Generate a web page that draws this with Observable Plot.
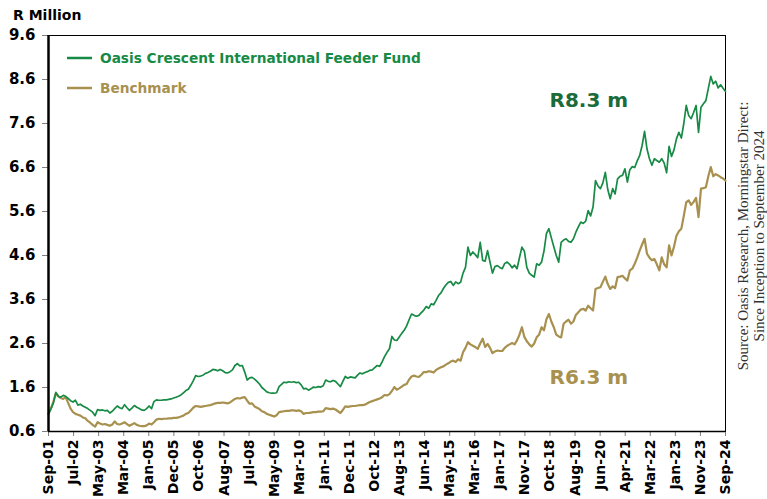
<!DOCTYPE html>
<html><head><meta charset="utf-8">
<script src="https://cdn.jsdelivr.net/npm/d3@7"></script>
<script src="https://cdn.jsdelivr.net/npm/@observablehq/plot@0.6"></script>
<style>body{margin:0;background:#fff}#chart{position:relative;width:767px;height:499px}</style>
</head><body><div id="chart"></div>
<script>
const seriesNames = ["Oasis Crescent International Feeder Fund", "Benchmark"];
const yAxisTitle = "R Million";
const sourceLines = ["Source: Oasis Research, Morningstar Direct:", "Since Inception to September 2024"];
const xTickLabels = ["Sep-01","Jul-02","May-03","Mar-04","Jan-05","Dec-05","Oct-06","Aug-07","Jul-08","May-09","Mar-10","Jan-11","Dec-11","Oct-12","Aug-13","Jun-14","May-15","Mar-16","Jan-17","Nov-17","Oct-18","Aug-19","Jun-20","Apr-21","Mar-22","Jan-23","Nov-23","Sep-24"];
const yTickValues = [0.6,1.6,2.6,3.6,4.6,5.6,6.6,7.6,8.6,9.6];

// monthly values, Sep-01 .. Sep-24
const fundValues = [
1.00,1.12,1.25,1.49,1.40,1.38,1.42,1.40,1.35,1.30,1.27,1.31,
1.20,1.22,1.18,1.15,1.12,1.08,1.04,0.96,1.10,1.08,1.09,1.07,
1.08,1.02,1.06,1.12,1.18,1.14,1.12,1.21,1.14,1.08,1.13,1.19,
1.15,1.12,1.09,1.08,1.12,1.18,1.12,1.28,1.32,1.31,1.31,1.32,
1.32,1.33,1.34,1.36,1.38,1.40,1.43,1.48,1.53,1.56,1.65,1.75,
1.87,1.85,1.86,1.88,1.92,1.94,1.97,2.01,2.00,1.98,2.01,1.98,
1.94,1.93,1.96,2.00,2.10,2.14,2.09,2.10,1.95,1.77,1.82,1.83,
1.79,1.74,1.68,1.60,1.55,1.50,1.48,1.47,1.47,1.48,1.62,1.67,
1.72,1.71,1.73,1.72,1.73,1.71,1.72,1.66,1.57,1.58,1.54,1.57,
1.61,1.60,1.62,1.61,1.64,1.77,1.74,1.73,1.76,1.74,1.68,1.62,
1.74,1.85,1.81,1.84,1.83,1.82,1.88,1.93,1.91,1.94,1.96,1.99,
2.00,2.05,2.10,2.08,2.18,2.30,2.40,2.48,2.76,2.68,2.67,2.75,
2.83,2.90,3.00,3.14,3.27,3.24,3.22,3.24,3.30,3.36,3.44,3.40,
3.50,3.48,3.58,3.69,3.75,3.85,3.93,3.99,4.01,3.92,4.00,3.96,
3.99,4.20,4.33,4.79,4.60,4.68,4.62,4.55,4.90,4.49,4.47,4.71,
4.45,4.20,4.35,4.37,4.33,4.30,4.42,4.45,4.40,4.32,4.38,4.30,
4.55,4.79,4.70,4.33,4.20,4.15,4.11,4.41,4.38,4.45,4.70,5.10,
5.21,5.00,4.80,4.60,4.45,4.90,4.95,4.98,4.92,4.90,4.98,5.13,
5.25,5.36,5.33,5.38,5.62,5.50,5.70,6.30,6.18,6.12,6.25,6.49,
6.10,5.89,6.12,6.00,6.34,6.40,6.42,6.57,6.27,6.55,6.62,6.60,
6.75,6.87,7.10,7.42,7.02,6.80,6.65,6.80,6.76,6.72,6.80,6.70,
6.48,7.08,6.85,7.00,7.25,7.40,7.27,7.60,8.01,7.78,7.71,7.85,
8.01,7.40,7.97,8.05,8.12,8.40,8.67,8.50,8.56,8.41,8.48,8.40,
8.33];
const benchmarkValues = [
1.00,1.12,1.28,1.47,1.40,1.36,1.34,1.38,1.25,1.12,1.04,1.00,
0.98,0.96,0.92,0.90,0.84,0.80,0.75,0.71,0.81,0.78,0.76,0.77,
0.75,0.73,0.76,0.83,0.77,0.76,0.78,0.81,0.77,0.73,0.76,0.79,
0.75,0.73,0.72,0.72,0.74,0.78,0.76,0.81,0.87,0.89,0.88,0.89,
0.89,0.90,0.90,0.91,0.91,0.92,0.94,0.96,1.00,1.02,1.08,1.14,
1.18,1.17,1.16,1.17,1.18,1.19,1.20,1.22,1.24,1.25,1.25,1.26,
1.25,1.24,1.26,1.30,1.34,1.36,1.35,1.37,1.38,1.30,1.23,1.24,
1.17,1.14,1.11,1.06,1.04,1.00,0.98,0.96,0.94,0.97,1.04,1.05,
1.06,1.07,1.07,1.08,1.08,1.07,1.08,1.06,1.00,1.02,1.02,1.03,
1.04,1.04,1.05,1.05,1.06,1.13,1.12,1.11,1.12,1.10,1.06,1.02,
1.09,1.17,1.16,1.17,1.18,1.18,1.19,1.20,1.20,1.21,1.24,1.27,
1.29,1.31,1.33,1.35,1.38,1.43,1.42,1.45,1.52,1.61,1.55,1.58,
1.62,1.66,1.68,1.78,1.85,1.87,1.85,1.84,1.89,1.95,1.95,1.97,
1.96,1.94,2.00,2.03,2.06,2.08,2.12,2.15,2.19,2.21,2.18,2.24,
2.21,2.40,2.50,2.63,2.58,2.55,2.52,2.48,2.60,2.71,2.52,2.59,
2.50,2.38,2.42,2.44,2.43,2.43,2.50,2.55,2.58,2.61,2.58,2.67,
2.80,2.97,2.75,2.65,2.58,2.53,2.60,2.74,2.80,2.97,2.90,3.15,
3.27,3.10,2.97,2.80,2.76,2.74,3.05,3.10,3.14,3.05,3.10,3.25,
3.31,3.37,3.39,3.35,3.46,3.40,3.35,3.84,3.86,3.88,4.00,4.12,
3.95,3.84,3.90,3.86,4.11,4.12,4.14,4.08,4.03,4.26,4.30,4.41,
4.55,4.71,4.85,4.98,4.64,4.55,4.49,4.52,4.40,4.26,4.56,4.40,
4.33,4.83,4.60,4.80,5.05,5.15,5.21,5.50,5.81,5.85,5.75,5.82,
5.91,5.47,6.12,6.13,6.15,6.40,6.61,6.40,6.45,6.42,6.38,6.35,
6.30];

const fundColor = "#178a45";
const benchColor = "#a8914f";
const fundLabelColor = "#1c6b3a";

const nMonths = fundValues.length - 1;
const xTickPositions = xTickLabels.map((_, i) => i * nMonths / (xTickLabels.length - 1));
const fundRows = fundValues.map((v, i) => ({month: i, value: v}));
const benchRows = benchmarkValues.map((v, i) => ({month: i, value: v}));
const fundEndLabel = "R" + fundValues[nMonths].toFixed(1) + " m";
const benchEndLabel = "R" + benchmarkValues[nMonths].toFixed(1) + " m";

const font = "'DejaVu Sans', Verdana, sans-serif";
const chart = Plot.plot({
  width: 767, height: 499,
  marginLeft: 48, marginRight: 42, marginTop: 35, marginBottom: 68,
  style: {fontFamily: font, fontSize: "14px", fontWeight: "bold", color: "#000", background: "#fff", overflow: "visible"},
  x: {domain: [0, nMonths]},
  y: {domain: [0.6, 9.6]},
  marks: [
    Plot.axisY({ticks: yTickValues, tickFormat: d => d.toFixed(1), tickSize: 6, tickPadding: 7, stroke: "#7f7f7f", fill: "#000", fontSize: 15, label: null}),
    Plot.axisX({ticks: xTickPositions, tickFormat: d => xTickLabels[xTickPositions.indexOf(d)], tickRotate: -90, tickSize: 5, tickPadding: 3, stroke: "#7f7f7f", fill: "#000", fontSize: 14, label: null}),
    Plot.frame({stroke: "#000", strokeWidth: 1}),
    Plot.line(benchRows, {x: "month", y: "value", stroke: benchColor, strokeWidth: 2.2}),
    Plot.line(fundRows, {x: "month", y: "value", stroke: fundColor, strokeWidth: 1.7}),
    Plot.ruleX([0], {stroke: "#000", strokeWidth: 2.5}),
    Plot.ruleY([0.6], {stroke: "#000", strokeWidth: 1.5}),
    Plot.text([fundEndLabel], {frameAnchor: "top-left", text: d => d, fill: fundLabelColor, dx: 501, dy: 65, textAnchor: "start", lineAnchor: "middle", fontSize: 20, fontWeight: "bold"}),
    Plot.text([benchEndLabel], {frameAnchor: "top-left", text: d => d, fill: benchColor, dx: 501, dy: 342, textAnchor: "start", lineAnchor: "middle", fontSize: 20, fontWeight: "bold"})
  ]
});
document.getElementById("chart").appendChild(chart);

const svg = d3.select(chart);
// y-axis title
svg.append("text").attr("x", 13).attr("y", 20).attr("fill", "#000").attr("text-anchor", "start")
  .style("font", `bold 14px ${font}`).text(yAxisTitle);
// legend
const legendColors = [fundColor, benchColor];
seriesNames.forEach((name, i) => {
  const y = 58 + i * 30;
  svg.append("line").attr("x1", 67).attr("x2", 92).attr("y1", y).attr("y2", y)
    .attr("stroke", legendColors[i]).attr("stroke-width", 2.5);
  svg.append("text").attr("x", 100).attr("y", y).attr("dy", "0.36em").attr("text-anchor", "start")
    .attr("fill", legendColors[i]).style("font", `bold 13.7px ${font}`).text(name);
});
// source note
sourceLines.forEach((line, i) => {
  svg.append("text").attr("transform", `translate(${748 + i * 16},236) rotate(-90)`)
    .attr("text-anchor", "middle").attr("fill", "#333")
    .style("font", "15px 'Liberation Serif', 'DejaVu Serif', serif").text(line);
});
</script></body></html>
